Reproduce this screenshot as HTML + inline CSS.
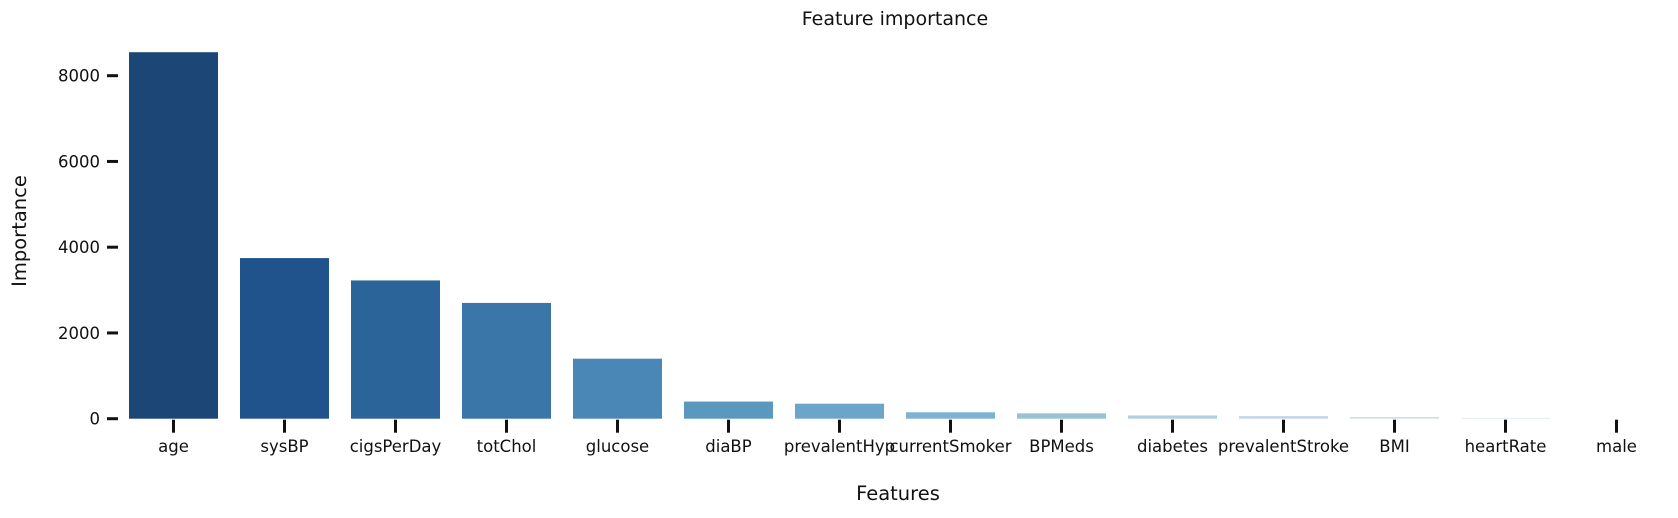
<!DOCTYPE html>
<html><head><meta charset="utf-8"><style>
body{margin:0;background:#fff}
svg text{font-family:"DejaVu Sans","Liberation Sans",sans-serif;fill:#111}
</style></head><body>
<svg id="c" width="1678" height="513"></svg>
<script>
const categories=["age","sysBP","cigsPerDay","totChol","glucose","diaBP","prevalentHyp","currentSmoker","BPMeds","diabetes","prevalentStroke","BMI","heartRate","male"];
const values=[8548,3746,3225,2700,1400,400,350,150,125,75,60,40,20,0];
const yTicks=[0,2000,4000,6000,8000];
const colors=["#1b4676","#20538b","#2b6499","#3b76a8","#4a87b6","#5b98c0","#6ba6ca","#7db3d2","#9ac2d6","#b0cfe0","#c3d7e8","#d0dfec","#dfe9f3","#f0f5fa"];
const NS="http://www.w3.org/2000/svg";
const svg=document.getElementById('c');
const y0=418.7,pxPer=343/8000;
function yS(v){return y0-v*pxPer;}
function xS(i){return 173.5+i*111;}
function mk(t,a,p){const e=document.createElementNS(NS,t);for(const k in a)e.setAttribute(k,a[k]);(p||svg).appendChild(e);return e;}
let t=mk('text',{x:895,y:25,'text-anchor':'middle','font-size':19});t.textContent="Feature importance";


categories.forEach((c,i)=>{
  const r=mk('rect',{x:xS(i)-44.5,y:yS(values[i]),width:89,height:y0-yS(values[i]),fill:colors[i]});
  
  
  const tk=mk('line',{x1:xS(i),x2:xS(i),y1:y0+1,y2:y0+14,stroke:'#111','stroke-width':3});
  
  
  const l=mk('text',{x:xS(i),y:452,'text-anchor':'middle','font-size':16.5});l.textContent=c;
  
  
});
yTicks.forEach(v=>{
  const tk=mk('line',{x1:107,x2:118,y1:yS(v),y2:yS(v),stroke:'#111','stroke-width':3});
  
  
  const l=mk('text',{x:100,y:yS(v)+6,'text-anchor':'end','font-size':16.5});l.textContent=v;
  
  
});
t=mk('text',{x:898,y:500,'text-anchor':'middle','font-size':19.5});t.textContent="Features";


t=mk('text',{x:0,y:0,'text-anchor':'middle','font-size':19.5,transform:'translate(26,231) rotate(-90)'});t.textContent="Importance";


</script>
</body></html>
